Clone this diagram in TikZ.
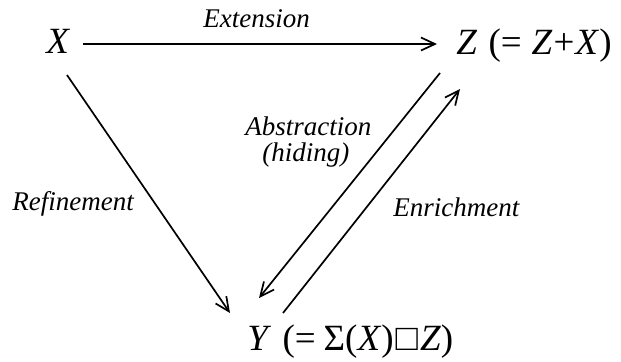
\documentclass[tikz,border=0pt]{standalone}
\usepackage{fontspec}
\setmainfont{Liberation Serif}
\usetikzlibrary{arrows.meta}
\begin{document}
\begin{tikzpicture}[x=0.5pt,y=-0.5pt,
  obj/.style={inner sep=0pt, anchor=base west, font=\fontsize{18.5}{20}\selectfont},
  lab/.style={inner sep=0pt, anchor=base west, font=\fontsize{13.5}{16}\selectfont\itshape},
  arr/.style={line width=0.85pt, -{Straight Barb[length=7pt,width=6.5pt,line width=0.85pt]}}]
\useasboundingbox (0,0) rectangle (621,361);
% objects
\node[obj] (X) at (46,53) {\textit{X}};
\node[obj] (Z) at (456,54) {\textit{Z}\hspace{1pt} (=\hspace{5pt}\textit{Z}\hspace{0.5pt}+\hspace{0.5pt}\textit{X})};
\node[obj] (Y) at (247,350) {\textit{Y}\hspace{1pt} (=\hspace{4pt}Σ(\textit{X})\hspace{1pt}□\hspace{1pt}\textit{Z})};
% connector ends
\coordinate (xe) at (83,44);
\coordinate (zw) at (437,44);
\coordinate (xs) at (67,75);
\coordinate (yr) at (230,313);
\coordinate (za) at (440,73);
\coordinate (ya) at (259,298);
\coordinate (ye) at (283,313);
\coordinate (ze) at (460,89);
% connectors
\draw[arr] (xe) -- (zw);
\draw[arr] (xs) -- (yr);
\draw[arr] (za) -- (ya);
\draw[arr] (ye) -- (ze);
% labels
\node[lab] (ext) at (203,27) {Extension};
\node[lab] (ref) at (12,210) {Refinement};
\node[lab] (abs) at (245,135) {Abstraction};
\node[lab] (hid) at (262,161) {(hiding)};
\node[lab] (enr) at (393,216) {Enrichment};
\end{tikzpicture}
\end{document}
